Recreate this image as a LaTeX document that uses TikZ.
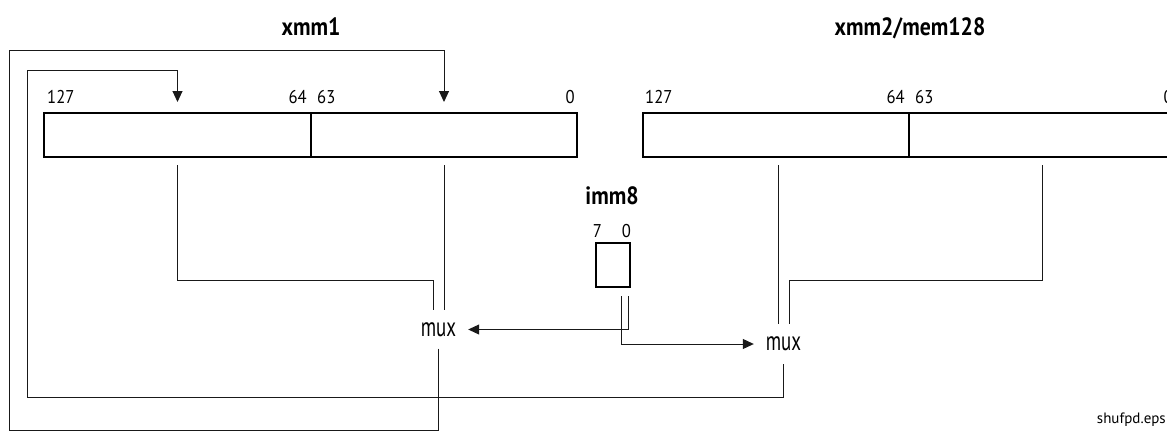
\documentclass[tikz,border=0pt]{standalone}
\usepackage{fontspec}
\setmainfont{PT Sans}[FakeStretch=0.9]
\newfontfamily\titlefont{PT Sans}[FakeStretch=0.87]
\newfontfamily\muxfont{PT Sans}[FakeStretch=0.7]
\newfontfamily\notefont{PT Sans}
\usetikzlibrary{arrows.meta,calc}
\begin{document}
\begin{tikzpicture}[x=1pt,y=-1pt,
  half/.style={draw, line width=2pt, minimum height=44pt, inner sep=0pt},
  immbox/.style={draw, line width=2pt, minimum width=34pt, minimum height=44pt, inner sep=0pt},
  num/.style={inner sep=0pt, font=\fontsize{18.5}{18.5}\selectfont},
  title/.style={inner sep=0pt, font=\titlefont\bfseries\fontsize{25}{25}\selectfont},
  muxnode/.style={inner sep=0pt, minimum width=59pt, font=\muxfont\fontsize{27}{27}\selectfont},
  wire/.style={line width=1pt, draw=black!90},
  arr/.style={-{Triangle[length=11pt,width=10pt]}}
]
\useasboundingbox (0,0) rectangle (1167,431);
\clip (0,0) rectangle (1167,431);

% titles
\node[title, anchor=base] (t1) at (311,35) {xmm1};
\node[title, anchor=base] (t2) at (910,35) {xmm2/mem128};
\node[title, anchor=base] (t3) at (612,204) {imm8};

% registers
\node[half, minimum width=267pt] (a1) at (177.5,135) {};
\node[half, minimum width=266pt] (a0) at (444,135) {};
\node[half, minimum width=266pt] (b1) at (776,135) {};
\node[half, minimum width=266pt] (b0) at (1042,135) {};
\node[immbox] (imm) at (613,265) {};

% bit labels
\node[num, anchor=base west] (la127) at (47,103) {127};
\node[num, anchor=base east] (la64) at (307,103) {64};
\node[num, anchor=base west] (la63) at (317,103) {63};
\node[num, anchor=base east] (la0) at (575,103) {0};
\node[num, anchor=base west] (lb127) at (645,103) {127};
\node[num, anchor=base east] (lb64) at (905,103) {64};
\node[num, anchor=base west] (lb63) at (915,103) {63};
\node[num, anchor=base east] (lb0) at (1173,103) {0};
\node[num, anchor=base] (li7) at (597.5,237) {7};
\node[num, anchor=base] (li0) at (626.5,237) {0};

% muxes
\node[muxnode, minimum height=38pt] (mux1) at (438.5,329.5) {mux};
\node[muxnode, minimum height=40pt] (mux2) at (783.5,344) {mux};

\node[inner sep=0pt, anchor=base east, font=\notefont\fontsize{15}{15}\selectfont] (note) at (1166,423) {shufpd.eps};

% connection points
\coordinate (a1in) at ($(a1.north)+(0,-10)$);
\coordinate (a0in) at ($(a0.north)+(0,-10)$);
\coordinate (m1l) at ($(mux1.north)+(-5.5,0)$);
\coordinate (m1r) at ($(mux1.north)+(5.5,0)$);
\coordinate (m2l) at ($(mux2.north)+(-5.5,0)$);
\coordinate (m2r) at ($(mux2.north)+(5.5,0)$);
\coordinate (i1) at ($(imm.south)+(8,8)$);
\coordinate (i2) at ($(imm.south)+(15,8)$);

% wires
\draw[wire] ($(a1.south)+(0,7)$) |- ($(m1l)+(0,-30)$) -- (m1l);
\draw[wire] ($(a0.south)+(0,7)$) -- (m1r);
\draw[wire] ($(m2l |- b1.south)+(0,7)$) -- (m2l);
\draw[wire] ($(b0.south)+(0,7)$) |- ($(m2r)+(0,-43)$) -- (m2r);
\draw[wire,arr] (i2) |- (mux1.east);
\draw[wire,arr] (i1) |- (mux2.west);
\draw[wire,arr] (mux1.south) |- (9,430) -- (9,50) -| (a0in);
\draw[wire,arr] (mux2.south) |- (27,397) -- (27,70) -| (a1in);
\end{tikzpicture}
\end{document}
